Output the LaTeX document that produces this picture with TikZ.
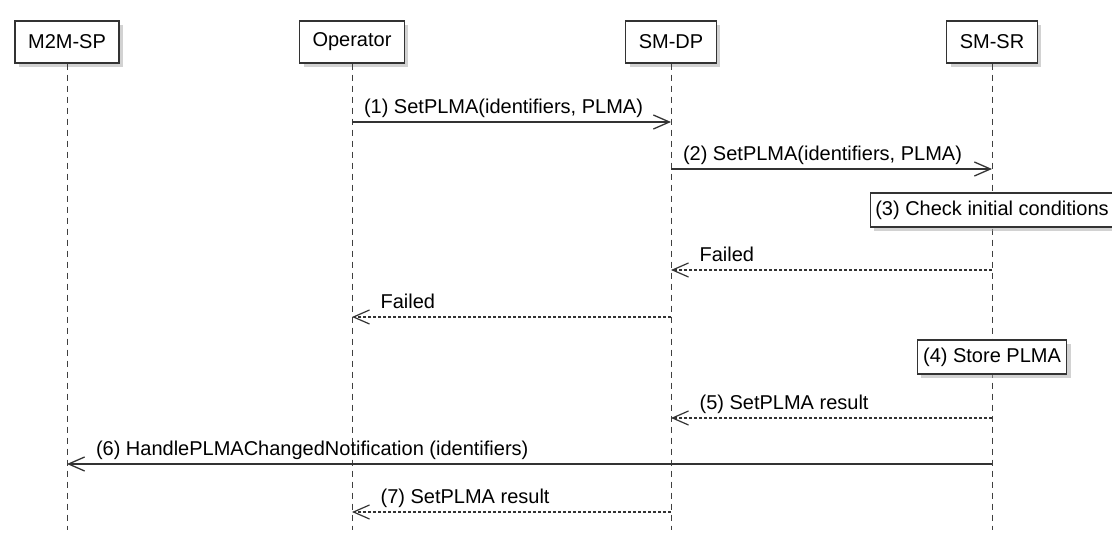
\documentclass[tikz,border=0pt]{standalone}
\usepackage{fontspec}
\setmainfont{Liberation Sans}
\usetikzlibrary{arrows.meta, positioning, shadows}

\begin{document}
\begin{tikzpicture}[x=1pt, y=-1pt,
    font=\fontsize{20}{24}\selectfont,
    boxshadow/.style={drop shadow={shadow xshift=4pt, shadow yshift=-4pt, fill=black!35}},
    party/.style={draw=black!80, line width=1.3pt, fill=white, minimum height=42pt, inner xsep=13pt, boxshadow},
    notebox/.style={draw=black!80, line width=1.1pt, fill=white, minimum height=34pt, inner xsep=5pt, boxshadow},
    life/.style={black!75, line width=1pt, dash pattern=on 6pt off 5pt},
    call/.style={black!80, line width=2pt, -{Straight Barb[length=16pt, width=14pt, line width=1.3pt]}},
    reply/.style={black!80, line width=1.2pt, dash pattern=on 3pt off 2pt, -{Straight Barb[length=16pt, width=14pt, line width=1.2pt]}},
    lbl/.style={anchor=base west, yshift=8pt, inner sep=0pt, text=black}]
    \useasboundingbox[fill=white] (0,0) rectangle (1112,534);

    % participants
    \node[party] (m2m) at (67,42) {M2M-SP};
    \node[party] (op) at (352,42) {Operator};
    \node[party] (dp) at (671,42) {SM-DP};
    \node[party] (sr) at (992,42) {SM-SR};

    % lifelines
    \coordinate (bottom) at (0,530);
    \foreach \p in {m2m,op,dp,sr}
        \draw[life] (\p.south) -- (\p.south |- bottom);

    % messages
    \draw[call] (op |- 0,122) -- (dp |- 0,122) node[lbl, pos=0, xshift=11pt] {(1) SetPLMA(identifiers, PLMA)};
    \draw[call] (dp |- 0,169) -- (sr |- 0,169) node[lbl, pos=0, xshift=11pt] {(2) SetPLMA(identifiers, PLMA)};
    \node[notebox] (check) at (sr |- 0,210) {(3) Check initial conditions};
    \draw[reply] (sr |- 0,270) -- (dp |- 0,270) node[lbl, pos=1, xshift=28pt] {Failed};
    \draw[reply] (dp |- 0,317) -- (op |- 0,317) node[lbl, pos=1, xshift=28pt] {Failed};
    \node[notebox, inner xsep=6pt] (store) at (sr |- 0,357) {(4) Store PLMA};
    \draw[reply] (sr |- 0,418) -- (dp |- 0,418) node[lbl, pos=1, xshift=28pt] {(5) SetPLMA result};
    \draw[call] (sr |- 0,464) -- (m2m |- 0,464) node[lbl, pos=1, xshift=28pt] {(6) HandlePLMAChangedNotification (identifiers)};
    \draw[reply] (dp |- 0,512) -- (op |- 0,512) node[lbl, pos=1, xshift=28pt] {(7) SetPLMA result};
\end{tikzpicture}
\end{document}
